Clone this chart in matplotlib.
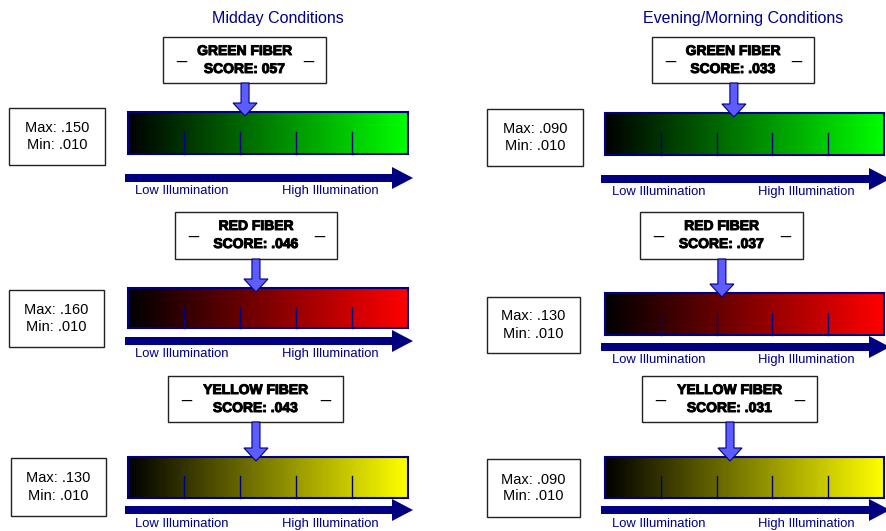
import numpy as np
import matplotlib
matplotlib.use("Agg")
import matplotlib.pyplot as plt
import matplotlib.patheffects as pe
from matplotlib.patches import Rectangle, FancyArrow

plt.rcParams['font.family'] = ['Liberation Sans', 'DejaVu Sans']

# data
panel_titles = ["Midday Conditions", "Evening/Morning Conditions"]
fibers = ["GREEN FIBER", "RED FIBER", "YELLOW FIBER"]
bar_colors = ["#00ff00", "#ff0000", "#ffff00"]

midday_scores = ["057", ".046", ".043"]
midday_max = [".150", ".160", ".130"]
midday_min = [".010", ".010", ".010"]
midday_pointer = [0.418, 0.457, 0.457]   # pointer position along the bar (0..1)

evening_scores = [".033", ".037", ".031"]
evening_max = [".090", ".130", ".090"]
evening_min = [".010", ".010", ".010"]
evening_pointer = [0.462, 0.419, 0.448]

tick_fracs = [0.2, 0.4, 0.6, 0.8]

# layout (pixel coordinates)
layout = [
    dict(title_x=278, bar_x=(128, 408),
         bar_y=[(112, 154), (288, 328), (457, 498)],
         score_box=[(163, 326, 37, 83), (175, 337, 212, 259), (168, 343, 376, 422)],
         mm_box=[(9, 105, 108, 165), (9, 104, 290, 347), (11, 106, 458, 516)],
         illum_y=[178, 341, 510], illum_x=(125, 413),
         label_y=[191, 354, 524], low_x=135, high_x=282),
    dict(title_x=743, bar_x=(605, 884),
         bar_y=[(113, 155), (293, 335), (457, 498)],
         score_box=[(652, 814, 37, 83), (640, 803, 212, 259), (642, 817, 376, 422)],
         mm_box=[(487, 583, 109, 166), (487, 580, 297, 353), (487, 580, 459, 517)],
         illum_y=[179, 347, 510], illum_x=(601, 890),
         label_y=[192, 360, 524], low_x=612, high_x=758),
]
panel_data = [
    (midday_scores, midday_max, midday_min, midday_pointer),
    (evening_scores, evening_max, evening_min, evening_pointer),
]

navy = "#000080"
heavy = [pe.withStroke(linewidth=0.7, foreground='black')]

fig = plt.figure(figsize=(8.86, 5.31), dpi=100)
ax = fig.add_axes([0, 0, 1, 1])

for p, lay in enumerate(layout):
    scores, maxs, mins, pointer = panel_data[p]
    ax.text(lay['title_x'], 18, panel_titles[p], color=navy, fontsize=11.5,
            ha='center', va='center')
    x0, x1 = lay['bar_x']
    for i in range(3):
        y0, y1 = lay['bar_y'][i]
        # gradient bar
        grad = np.linspace(0, 1, 256)[None, :, None] * np.array(matplotlib.colors.to_rgb(bar_colors[i]))[None, None, :]
        ax.imshow(grad, extent=(x0, x1, y1, y0), aspect='auto', zorder=1)
        ax.add_patch(Rectangle((x0, y0), x1 - x0, y1 - y0, fill=False,
                               edgecolor=navy, lw=1.5, zorder=2))
        for f in tick_fracs:
            tx = x0 + f * (x1 - x0)
            ax.plot([tx, tx], [y0 + 0.47 * (y1 - y0), y1], color=navy, lw=1, zorder=2)

        # score box
        bx0, bx1, by0, by1 = lay['score_box'][i]
        ax.add_patch(Rectangle((bx0, by0), bx1 - bx0, by1 - by0, facecolor='white',
                               edgecolor='#222222', lw=1, zorder=3))
        bc = (bx0 + bx1) / 2
        ax.text(bc, by0 + 14, fibers[i], fontsize=10, fontweight='bold',
                ha='center', va='center', zorder=4, path_effects=heavy)
        ax.text(bc, by0 + 32, "SCORE: " + scores[i], fontsize=10, fontweight='bold',
                ha='center', va='center', zorder=4, path_effects=heavy)
        ax.text(bx0 + 18, by0 + 21, "_", fontsize=13, ha='center', va='baseline', zorder=4)
        ax.text(bx1 - 18, by0 + 21, "_", fontsize=13, ha='center', va='baseline', zorder=4)

        # pointer arrow
        px = x0 + pointer[i] * (x1 - x0)
        ax.add_patch(FancyArrow(px, by1, 0, (y0 + 4) - by1, width=8, head_width=24,
                                head_length=13, length_includes_head=True,
                                facecolor='#5c5cff', edgecolor=navy, lw=0.8, zorder=5))

        # max / min box
        mx0, mx1, my0, my1 = lay['mm_box'][i]
        ax.add_patch(Rectangle((mx0, my0), mx1 - mx0, my1 - my0, facecolor='white',
                               edgecolor='#222222', lw=1, zorder=3))
        mc, mm = (mx0 + mx1) / 2, (my0 + my1) / 2
        ax.text(mc, mm - 8.5, "Max: " + maxs[i], fontsize=10.5, ha='center', va='center', zorder=4)
        ax.text(mc, mm + 8.5, "Min: " + mins[i], fontsize=10.5, ha='center', va='center', zorder=4)

        # illumination arrow
        ix0, ix1 = lay['illum_x']
        iy = lay['illum_y'][i]
        ax.add_patch(FancyArrow(ix0, iy, ix1 - ix0, 0, width=8, head_width=22,
                                head_length=21, length_includes_head=True,
                                color=navy, lw=0, zorder=2))
        ax.text(lay['low_x'], lay['label_y'][i], "Low Illumination", color=navy,
                fontsize=9.4, ha='left', va='center')
        ax.text(lay['high_x'], lay['label_y'][i], "High Illumination", color=navy,
                fontsize=9.4, ha='left', va='center')

ax.set_xlim(0, 886)
ax.set_ylim(531, 0)
ax.axis('off')
fig.savefig("out.png", dpi=100)
